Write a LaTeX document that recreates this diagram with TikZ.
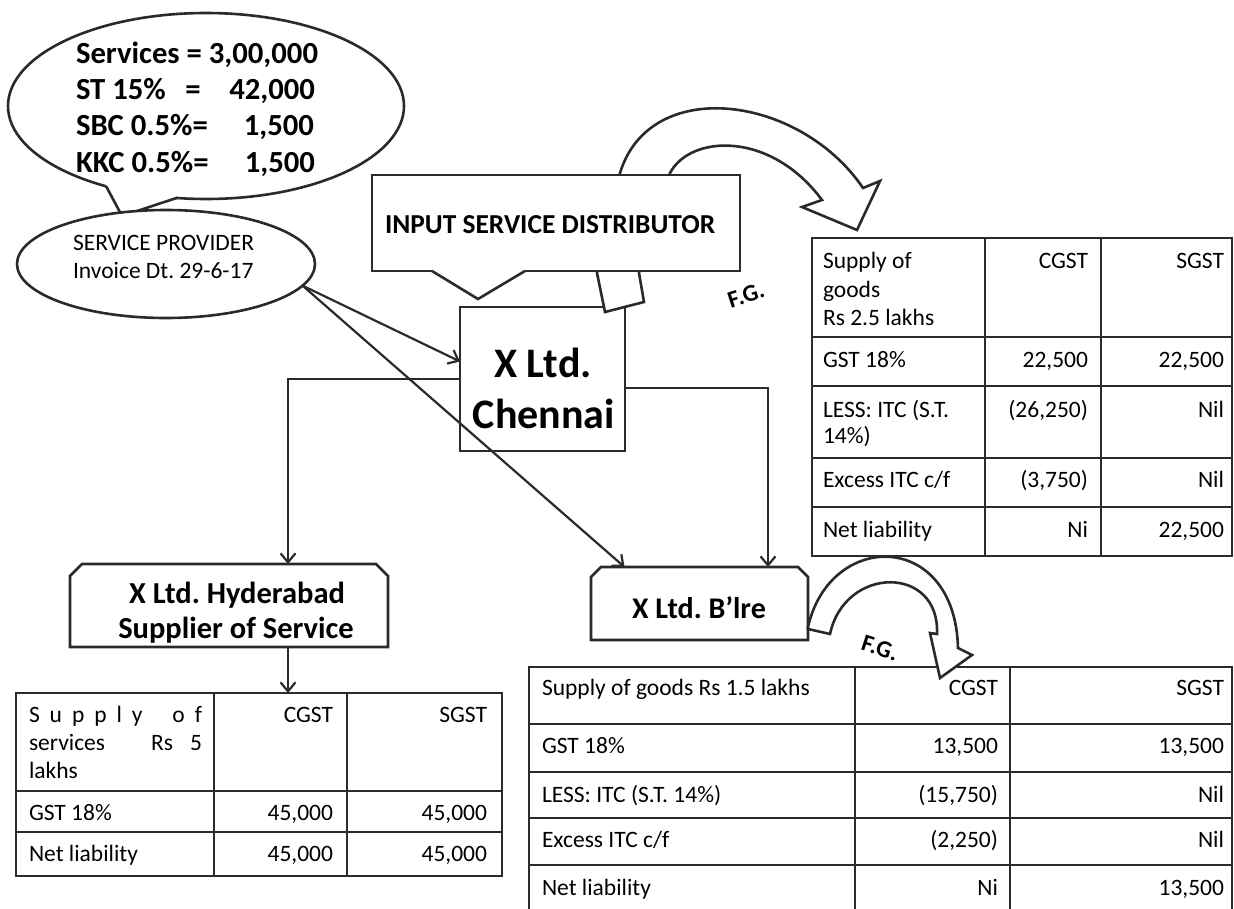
\documentclass[tikz,border=0pt]{standalone}
\usepackage{fontspec}
\setmainfont{Carlito}
\usetikzlibrary{shapes.geometric,arrows.meta,calc}
\definecolor{ln}{HTML}{2A2A2A}
\newcounter{tn}
\newcommand\cellL[3]{\stepcounter{tn}\node[tabtxt,anchor=base west] (c\arabic{tn}) at (#1,#2) {#3};}
\newcommand\cellR[3]{\stepcounter{tn}\node[tabtxt,anchor=base east] (c\arabic{tn}) at (#1,#2) {#3};}
\frenchspacing
\begin{document}
\frenchspacing
\begin{tikzpicture}[x=1pt,y=-1pt,
  every node/.style={inner sep=0pt,outer sep=0pt},
  tabtxt/.style={font=\fontsize{23.5}{28}\selectfont},
  tabline/.style={draw=ln,line width=1.8pt},
  boxln/.style={draw=ln,line width=2.6pt,fill=white,line join=miter},
  arr/.style={draw=ln,line width=2.2pt,-{Straight Barb[length=9pt,width=15pt]}},
  bubtxt/.style={font=\bfseries\fontsize{30.7}{36}\selectfont},
  sptxt/.style={font=\fontsize{23.5}{28}\selectfont},
  chtxt/.style={font=\bfseries\fontsize{42}{50}\selectfont},
  isdtxt/.style={font=\bfseries\fontsize{27.4}{32}\selectfont},
  hydtxt/.style={font=\bfseries\fontsize{30.5}{36}\selectfont},
  bltxt/.style={font=\bfseries\fontsize{30}{36}\selectfont},
  fgtxt/.style={font=\bfseries\fontsize{24}{28}\selectfont}
]
\useasboundingbox (0,0) rectangle (1234,908);

% ---------- tables ----------
% upper right
\node[tabline,minimum width=420,minimum height=318,anchor=north west] (trt) at (812,238) {};
\draw[tabline] (985,238) -- (985,556) (1101,238) -- (1101,556)
  (812,337) -- (1232,337) (812,386) -- (1232,386) (812,458) -- (1232,458) (812,507) -- (1232,507);
\cellL{823}{268}{Supply of}
\cellL{823}{297}{goods}
\cellL{823}{325}{Rs 2.5 lakhs}
\cellR{1088}{268}{CGST}
\cellR{1224}{268}{SGST}
\cellL{823}{367}{GST 18\%}
\cellR{1088}{367}{22,500}
\cellR{1224}{367}{22,500}
\cellL{823}{417}{LESS: ITC (S.T.}
\cellL{823}{443}{14\%)}
\cellR{1088}{417}{(26,250)}
\cellR{1224}{417}{Nil}
\cellL{823}{487}{Excess ITC c/f}
\cellR{1088}{487}{(3,750)}
\cellR{1224}{487}{Nil}
\cellL{823}{537}{Net liability}
\cellR{1088}{537}{Ni}
\cellR{1224}{537}{22,500}

% lower left
\node[tabline,minimum width=486,minimum height=183,anchor=north west] (tlt) at (16,693) {};
\draw[tabline] (214,693) -- (214,876) (347,693) -- (347,876)
  (16,791) -- (502,791) (16,832) -- (502,832);
\cellL{29}{722}{\makebox[173pt][s]{S\hfill u\hfill p\hfill p\hfill l\hfill y\hfill\hfill\hfill o\hfill f}}
\cellL{29}{750}{\makebox[173pt][s]{services\hfill Rs\hspace{17pt}5}}
\cellL{29}{778}{lakhs}
\cellR{333}{722}{CGST}
\cellR{487}{722}{SGST}
\cellL{29}{820}{GST 18\%}
\cellR{333}{820}{45,000}
\cellR{487}{820}{45,000}
\cellL{29}{861}{Net liability}
\cellR{333}{861}{45,000}
\cellR{487}{861}{45,000}

% lower right
\node[tabline,minimum width=703,minimum height=245,anchor=north west] (brt) at (529,667) {};
\draw[tabline] (855,667) -- (855,912) (1010,667) -- (1010,912)
  (529,724) -- (1232,724) (529,772) -- (1232,772) (529,818) -- (1232,818) (529,865) -- (1232,865);
\cellL{542}{695}{Supply of goods Rs 1.5 lakhs}
\cellR{998}{695}{CGST}
\cellR{1224}{695}{SGST}
\cellL{542}{753}{GST 18\%}
\cellR{998}{753}{13,500}
\cellR{1224}{753}{13,500}
\cellL{542}{802}{LESS: ITC (S.T. 14\%)}
\cellR{998}{802}{(15,750)}
\cellR{1224}{802}{Nil}
\cellL{542}{847}{Excess ITC c/f}
\cellR{998}{847}{(2,250)}
\cellR{1224}{847}{Nil}
\cellL{542}{895}{Net liability}
\cellR{998}{895}{Ni}
\cellR{1224}{895}{13,500}

% ---------- top-left callout ----------
\node[ellipse,boxln,minimum width=396,minimum height=186] (bub) at (206,106) {};
\fill[white] (106,186) -- (122,216) -- (178,197.5) -- (178,189) -- (106,178) -- cycle;
\draw[draw=ln,line width=2.6pt] (106,186) -- (122,216) -- (178,197.5);
\node[bubtxt,anchor=base west] (b1) at (76,63) {Services = 3,00,000};
\node[bubtxt,anchor=base west] (b2) at (76,99) {ST 15\%};
\node[bubtxt,anchor=base] (b2e) at (193,99) {=};
\node[bubtxt,anchor=base east] (b2v) at (315,99) {42,000};
\node[bubtxt,anchor=base west] (b3) at (76,135) {SBC 0.5\%=};
\node[bubtxt,anchor=base east] (b3v) at (314,135) {1,500};
\node[bubtxt,anchor=base west] (b4) at (76,172) {KKC 0.5\%=};
\node[bubtxt,anchor=base east] (b4v) at (315,172) {1,500};

% service provider
\node[ellipse,boxln,minimum width=298,minimum height=108] (sp) at (166,264) {};
\node[sptxt,anchor=base west] (sp1) at (73,250) {SERVICE PROVIDER};
\node[sptxt,anchor=base west] (sp2) at (73,278) {Invoice Dt. 29-6-17};

% ---------- Chennai ----------
\node[boxln,minimum width=165,minimum height=144] (ch) at (542.5,379) {};

% upper curved arrow
\draw[boxln] (605,312) -- (644,302) -- (639,273) -- (670,173)
  .. controls (690,135) and (770,130) .. (822,200)
  -- (802,207) -- (857,230) -- (880,181) -- (863,188)
  .. controls (800,95) and (650,75) .. (620,173) -- (597,273) -- cycle;

% ISD callout
\node[boxln,minimum width=368,minimum height=96] (isd) at (556,223) {};
\fill[white] (432,271) -- (478,299) -- (525,271) -- (525,264) -- (432,264) -- cycle;
\draw[draw=ln,line width=2.6pt] (432,271) -- (478,299) -- (525,271);
\node[isdtxt,anchor=base west] (isdt) at (385,233) {INPUT SERVICE DISTRIBUTOR};

% Hyderabad box
\node[minimum width=318,minimum height=83] (hyd) at (229,605.5) {};
\draw[boxln] (hyd.south west) -- ($(hyd.north west)+(0,12)$) -- ($(hyd.north west)+(12,0)$)
  -- ($(hyd.north east)+(-12,0)$) -- ($(hyd.north east)+(0,12)$) -- (hyd.south east) -- cycle;
\node[hydtxt,anchor=base] (h1) at (237,603) {X Ltd. Hyderabad};
\node[hydtxt,anchor=base] (h2) at (236,638) {Supplier of Service};

% B'lre box
\node[minimum width=217,minimum height=73] (bl) at (699.5,603.5) {};
\draw[boxln] (bl.south west) -- ($(bl.north west)+(0,10)$) -- ($(bl.north west)+(10,0)$)
  -- ($(bl.north east)+(-10,0)$) -- ($(bl.north east)+(0,10)$) -- (bl.south east) -- cycle;
\node[bltxt,anchor=base] (bl1) at (699,618) {X Ltd. B'lre};

% lower curved arrow
\draw[boxln] (808,629) -- (830,634) .. controls (845,565) and (940,565) .. (937,634)
  -- (930,633) -- (940,678) -- (972,655) -- (958,648)
  .. controls (955,530) and (830,530) .. (808,627) -- cycle;

% ---------- connectors ----------
\draw[arr] (sp.-9) -- (ch.168);
\draw[arr] (sp.-9) -- ($(bl.north)+(-75,0)$);
\draw[arr] (ch.west) -| ($(hyd.north)+(59,0)$);
\draw[arr] ($(ch.east)+(0,9)$) -| ($(bl.north)+(68.5,0)$);
\draw[arr] ($(hyd.south)+(59,0)$) -- ($(tlt.north west)+(272,0)$);

% Chennai text (on top of connectors)
\node[chtxt,anchor=base] (ch1) at (543,377) {X Ltd.};
\node[chtxt,anchor=base] (ch2) at (544,428) {Chennai};

% F.G. labels
\node[fgtxt,rotate=18] (fg1) at (746,295) {F.G.};
\node[fgtxt,rotate=-18] (fg2) at (880,648) {F.G.};
\end{tikzpicture}
\end{document}
